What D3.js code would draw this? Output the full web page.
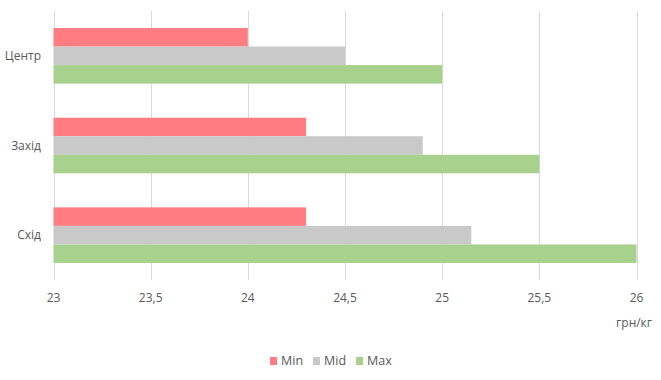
<!DOCTYPE html>
<html><head><meta charset="utf-8">
<script src="https://cdn.jsdelivr.net/npm/d3@7"></script>
<style>body{margin:0;background:#fff}svg{display:block}text{font-family:"Open Sans","Noto Sans",sans-serif;fill:#595959}</style>
</head><body>
<svg id="c" width="661" height="380"></svg>
<script>
const categories = ["Центр", "Захід", "Схід"];
const seriesNames = ["Min", "Mid", "Max"];
const minValues = [24, 24.3, 24.3];
const midValues = [24.5, 24.9, 25.15];
const maxValues = [25, 25.5, 26];
const tickValues = [23, 23.5, 24, 24.5, 25, 25.5, 26];
const unitLabel = "грн/кг";
const colors = ["#FF7C80", "#C9C9C9", "#A9D18E"];

const seriesValues = [minValues, midValues, maxValues];
const svg = d3.select("#c");
const x = d3.scaleLinear().domain([23, 26]).range([53.5, 636.5]);
const y0 = d3.scaleBand().domain(categories).range([11, 280]).paddingInner(0.38).paddingOuter(0.19);
const y1 = d3.scaleBand().domain(seriesNames).range([0, y0.bandwidth()]);

// gridlines
svg.append("g").selectAll("line").data(tickValues).join("line")
  .attr("x1", d => Math.round(x(d)) + 0.5).attr("x2", d => Math.round(x(d)) + 0.5)
  .attr("y1", 11).attr("y2", 280)
  .attr("stroke", "#d9d9d9").attr("stroke-width", 1);

// bars
const g = svg.append("g");
categories.forEach((c, ci) => {
  seriesNames.forEach((s, si) => {
    g.append("rect")
      .attr("x", x(23))
      .attr("y", y0(c) + y1(s))
      .attr("width", x(seriesValues[si][ci]) - x(23))
      .attr("height", y1.bandwidth())
      .attr("fill", colors[si]);
  });
});

// x axis labels
const fmt = d => String(d).replace(".", ",");
svg.append("g").selectAll("text").data(tickValues).join("text")
  .attr("x", d => x(d)).attr("y", 302)
  .attr("text-anchor", "middle").attr("font-size", 12)
  .text(fmt);

// y labels
svg.append("g").selectAll("text").data(categories).join("text")
  .attr("x", 41).attr("y", d => y0(d) + y0.bandwidth() / 2 + 4)
  .attr("text-anchor", "end").attr("font-size", 12)
  .text(d => d);

// unit label
svg.append("text").attr("x", 652).attr("y", 327).attr("text-anchor", "end")
  .attr("font-size", 12).text(unitLabel);

// legend
const legX = [270, 313, 356];
const leg = svg.append("g");
seriesNames.forEach((s, i) => {
  leg.append("rect").attr("x", legX[i]).attr("y", 357).attr("width", 7).attr("height", 8).attr("fill", colors[i]);
  leg.append("text").attr("x", legX[i] + 11).attr("y", 365).attr("font-size", 12.5).text(s);
});
</script>
</body></html>
